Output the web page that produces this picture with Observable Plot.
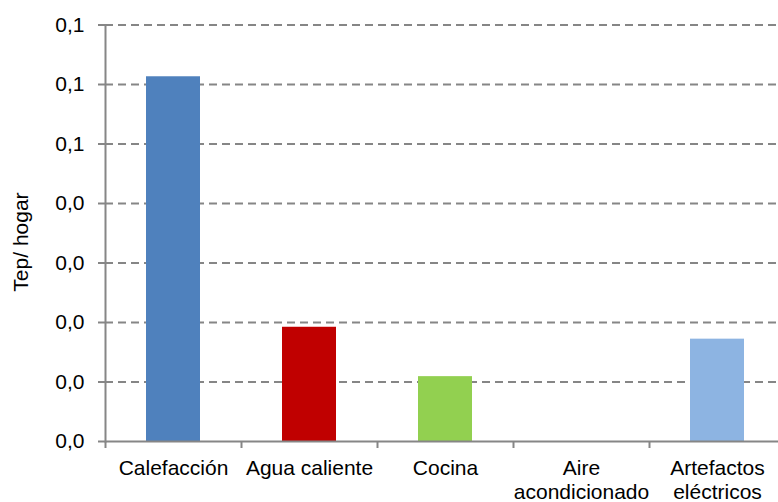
<!DOCTYPE html>
<html>
<head>
<meta charset="utf-8">
<script src="https://cdn.jsdelivr.net/npm/d3@7"></script>
<script src="https://cdn.jsdelivr.net/npm/@observablehq/plot@0.6"></script>
<style>
  html, body { margin: 0; padding: 0; background: white; }
  #chart svg { overflow: visible; }
</style>
</head>
<body>
<div id="chart"></div>
<script>
const categories = ["Calefacción", "Agua caliente", "Cocina", "Aire\nacondicionado", "Artefactos\neléctricos"];
const values = [0.0613, 0.0192, 0.0109, 0, 0.0172];
const barColors = ["#4F81BD", "#C00000", "#92D050", "#8064A2", "#8DB4E2"];
const yTicks = [0, 0.01, 0.02, 0.03, 0.04, 0.05, 0.06, 0.07];
const yTickLabels = ["0,0", "0,0", "0,0", "0,0", "0,0", "0,1", "0,1", "0,1"];
const gridTicks = yTicks.slice(1);
const titleText = "(Tep/ hogar)";
const yLabel = "Tep/ hogar";

const data = categories.map((c, i) => ({cat: c, val: values[i]}));
const axisColor = "#868686";

const plot = Plot.plot({
  width: 778,
  height: 502,
  marginLeft: 105,
  marginRight: 0,
  marginTop: 24.5,
  marginBottom: 61,
  style: {fontFamily: "'Liberation Sans', Arial, sans-serif", fontSize: "21px", color: "black", background: "white"},
  x: {domain: categories, range: [105, 785], paddingInner: 0.603, paddingOuter: 0.3015, axis: null},
  y: {domain: [0, 0.07], axis: null},
  color: {domain: categories, range: barColors},
  marks: [
    Plot.ruleY(gridTicks, {stroke: axisColor, strokeWidth: 2, strokeDasharray: "8,5"}),
    Plot.barY(data, {x: "cat", y: "val", fill: "cat"}),
    Plot.ruleY([0], {stroke: axisColor, strokeWidth: 2}),
    Plot.frame({anchor: "left", stroke: axisColor, strokeWidth: 2}),
    Plot.axisY({
      ticks: yTicks,
      tickSize: 7,
      tickPadding: 14,
      stroke: axisColor,
      strokeWidth: 2,
      fill: "black",
      tickFormat: d => yTickLabels[yTicks.indexOf(d)],
      label: null
    }),
    Plot.axisX({
      tickSize: 7,
      stroke: axisColor,
      strokeWidth: 2,
      tickFormat: () => "",
      dx: -68,
      label: null
    }),
    Plot.axisX({
      tickSize: 0,
      tickPadding: 17,
      fill: "black",
      lineHeight: 1.12,
      label: null
    }),
    Plot.text([yLabel], {
      frameAnchor: "left",
      textAnchor: "middle",
      text: d => d,
      rotate: -90,
      dx: -84,
      dy: 8.75,
      fill: "black",
      fontSize: 21
    })
  ]
});

d3.select(plot).append("text")
  .attr("x", 411.5)
  .attr("y", -5)
  .attr("text-anchor", "middle")
  .attr("font-weight", "bold")
  .attr("font-size", 23)
  .attr("fill", "black")
  .text(titleText);

document.getElementById("chart").appendChild(plot);
</script>
</body>
</html>
